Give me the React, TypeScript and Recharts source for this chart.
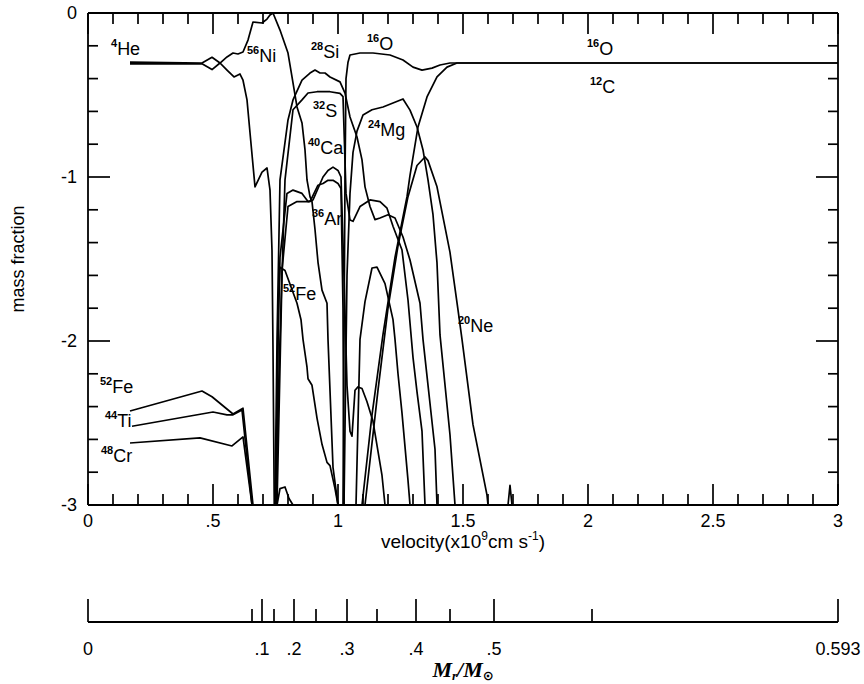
import React from 'react';
import { LineChart, Line, XAxis, YAxis, ReferenceDot } from 'recharts';

// each curve: [velocity (1e9 cm/s), log10 mass fraction]
const toPts = (a: number[][]) => a.map(([v, y]) => ({ v, y }));

const he4 = toPts([
  [0.168, -0.3], [0.456, -0.305], [0.496, -0.27], [0.528, -0.305], [0.556, -0.348],
  [0.584, -0.39], [0.608, -0.372], [0.62, -0.41], [0.636, -0.53], [0.648, -0.73],
  [0.668, -1.06], [0.696, -0.97], [0.716, -0.945], [0.728, -1.08], [0.736, -1.45],
  [0.74, -2.05], [0.745, -3],
]);

const ni56 = toPts([
  [0.168, -0.31], [0.456, -0.31], [0.496, -0.345], [0.528, -0.305], [0.556, -0.268],
  [0.58, -0.244], [0.6, -0.25], [0.62, -0.238], [0.64, -0.165], [0.66, -0.055],
  [0.696, -0.061], [0.716, -0.037], [0.728, -0.012], [0.74, 0], [0.768, -0.104],
  [0.8, -0.244], [0.816, -0.39], [0.836, -0.573], [0.856, -0.67], [0.868, -0.835],
  [0.876, -1.018], [0.888, -1.12], [0.896, -1.15], [0.908, -1.32], [0.92, -1.52],
  [0.936, -1.69], [0.956, -1.77], [0.96, -1.99], [0.98, -2.77], [1.0, -3],
]);

const fe52Core = toPts([
  [0.168, -2.427], [0.456, -2.305], [0.496, -2.34], [0.58, -2.445], [0.62, -2.41], [0.66, -3],
]);

const ti44 = toPts([
  [0.176, -2.52], [0.5, -2.433], [0.556, -2.45], [0.58, -2.45], [0.616, -2.42], [0.656, -3],
]);

const cr48 = toPts([
  [0.168, -2.622], [0.448, -2.591], [0.576, -2.64], [0.62, -2.585], [0.656, -3],
]);

const si28 = toPts([
  [0.748, -3], [0.756, -2.0], [0.768, -1.018], [0.8, -0.652], [0.82, -0.53],
  [0.856, -0.409], [0.888, -0.366], [0.908, -0.348], [0.928, -0.366], [0.948, -0.366],
  [0.968, -0.39], [1.008, -0.42], [1.028, -0.488], [1.048, -0.634], [1.076, -0.756],
  [1.096, -0.896], [1.108, -1.06], [1.128, -1.18], [1.148, -1.26], [1.168, -1.25],
  [1.2, -1.23], [1.228, -1.25], [1.26, -1.366], [1.288, -1.506], [1.328, -1.77],
  [1.34, -1.99], [1.388, -2.66], [1.396, -3],
]);

const s32 = toPts([
  [0.756, -3], [0.776, -1.6], [0.788, -1.018], [0.82, -0.59], [0.856, -0.53],
  [0.88, -0.488], [0.916, -0.48], [0.968, -0.48], [1.008, -0.49], [1.02, -0.51],
  [1.032, -1.1], [1.048, -1.262], [1.06, -1.27], [1.088, -1.18], [1.128, -1.14],
  [1.168, -1.15], [1.196, -1.19], [1.22, -1.3], [1.256, -1.445], [1.28, -1.75],
  [1.3, -2.1], [1.316, -2.31], [1.336, -2.55], [1.348, -3],
]);

const ca40 = toPts([
  [0.75, -3], [0.76, -2.0], [0.768, -1.49], [0.796, -1.1], [0.82, -1.08],
  [0.856, -1.1], [0.88, -1.15], [0.9, -1.14], [0.92, -1.07], [0.94, -1.0],
  [0.96, -0.96], [0.98, -0.94], [1.0, -0.96], [1.012, -1.0], [1.024, -1.6],
  [1.036, -2.27], [1.048, -2.55], [1.056, -2.58], [1.068, -2.3], [1.08, -2.28],
  [1.096, -2.29], [1.116, -2.37], [1.14, -2.49], [1.176, -2.82], [1.188, -3],
]);

const ar36 = toPts([
  [0.752, -3], [0.764, -2.2], [0.776, -1.57], [0.8, -1.18], [0.836, -1.15],
  [0.888, -1.15], [0.904, -1.1], [0.92, -1.05], [0.94, -1.04], [0.96, -1.02],
  [0.98, -1.02], [1.0, -1.04], [1.012, -1.07], [1.02, -1.8], [1.024, -3],
]);

const fe52Si = toPts([
  [0.752, -3], [0.762, -1.75], [0.768, -1.55], [0.788, -1.57], [0.836, -1.77],
  [0.852, -1.87], [0.86, -1.99], [0.876, -2.16], [0.88, -2.23], [0.896, -2.27],
  [0.916, -2.47], [0.936, -2.63], [0.956, -2.74], [0.968, -2.76], [0.988, -2.9], [1.0, -3],
]);

const smallBump = toPts([
  [0.756, -3], [0.768, -2.9], [0.788, -2.89], [0.804, -2.96], [0.82, -3],
]);

const o16 = toPts([
  [1.02, -3], [1.028, -1.0], [1.032, -0.4], [1.04, -0.3], [1.048, -0.256],
  [1.088, -0.244], [1.14, -0.244], [1.208, -0.256], [1.26, -0.287], [1.3, -0.33],
  [1.336, -0.348], [1.376, -0.336], [1.408, -0.317], [1.448, -0.305], [3, -0.305],
]);

const mg24 = toPts([
  [1.024, -3], [1.036, -1.6], [1.048, -1.1], [1.06, -0.85], [1.076, -0.72],
  [1.1, -0.622], [1.136, -0.59], [1.18, -0.573], [1.22, -0.549], [1.26, -0.524],
  [1.288, -0.592], [1.316, -0.695], [1.34, -0.835], [1.36, -1.018], [1.38, -1.23],
  [1.396, -1.524], [1.408, -1.963], [1.448, -2.573], [1.468, -3],
]);

const c12 = toPts([
  [1.096, -3], [1.136, -2.45], [1.18, -1.96], [1.228, -1.49], [1.276, -1.12],
  [1.288, -0.99], [1.32, -0.695], [1.356, -0.512], [1.396, -0.39], [1.436, -0.33],
  [1.476, -0.305], [3, -0.305],
]);

const ne20 = toPts([
  [1.108, -3], [1.16, -2.3], [1.2, -1.8], [1.24, -1.42], [1.28, -1.12],
  [1.316, -0.93], [1.348, -0.878], [1.36, -0.9], [1.396, -1.06], [1.448, -1.46],
  [1.48, -1.81], [1.496, -1.99], [1.54, -2.51], [1.596, -2.94], [1.6, -3],
]);

const midPeak = toPts([
  [1.072, -3], [1.088, -1.99], [1.108, -1.76], [1.136, -1.555], [1.156, -1.55],
  [1.188, -1.65], [1.22, -1.87], [1.228, -1.99], [1.24, -2.2], [1.256, -2.44],
  [1.28, -2.85], [1.288, -3],
]);

const spike = toPts([[1.68, -3], [1.688, -2.88], [1.696, -3]]);

const curves = [
  he4, ni56, fe52Core, ti44, cr48, si28, s32, ca40, ar36, fe52Si,
  smallBump, o16, mg24, c12, ne20, midPeak, spike,
];

// axis ticks
const velocityTicks = [
  0, 0.1, 0.2, 0.3, 0.4, 0.5, 0.6, 0.7, 0.8, 0.9, 1, 1.1, 1.2, 1.3, 1.4, 1.5,
  1.6, 1.7, 1.8, 1.9, 2, 2.1, 2.2, 2.3, 2.4, 2.5, 2.6, 2.7, 2.8, 2.9, 3,
];
const fractionTicks = [
  -3, -2.8, -2.6, -2.4, -2.2, -2, -1.8, -1.6, -1.4, -1.2, -1, -0.8, -0.6, -0.4, -0.2, 0,
];

// enclosed mass scale, placed at the velocity where each mass is reached
const massTickVelocity = [0, 0.656, 0.696, 0.744, 0.824, 0.912, 1.036, 1.156, 1.312, 1.448, 1.624, 2.016, 3];
const massTickLabels = ['0', '', '.1', '', '.2', '', '.3', '', '.4', '', '.5', '', '0.593'];

// species labels: mass number, element, anchor (velocity, log X)
const speciesLabels = [
  { a: '4', el: 'He', v: 0.092, y: -0.256 },
  { a: '56', el: 'Ni', v: 0.636, y: -0.299 },
  { a: '28', el: 'Si', v: 0.892, y: -0.274 },
  { a: '16', el: 'O', v: 1.116, y: -0.226 },
  { a: '16', el: 'O', v: 1.996, y: -0.256 },
  { a: '12', el: 'C', v: 2.008, y: -0.488 },
  { a: '32', el: 'S', v: 0.9, y: -0.634 },
  { a: '40', el: 'Ca', v: 0.88, y: -0.86 },
  { a: '24', el: 'Mg', v: 1.12, y: -0.75 },
  { a: '36', el: 'Ar', v: 0.896, y: -1.293 },
  { a: '52', el: 'Fe', v: 0.78, y: -1.75 },
  { a: '20', el: 'Ne', v: 1.48, y: -1.945 },
  { a: '52', el: 'Fe', v: 0.048, y: -2.317 },
  { a: '44', el: 'Ti', v: 0.068, y: -2.524 },
  { a: '48', el: 'Cr', v: 0.052, y: -2.738 },
];

const FONT = '"Liberation Sans", Arial, Helvetica, sans-serif';
const SERIF = '"Liberation Serif", "DejaVu Serif", serif';
const INK = '#000';

// frame layout (set by the chart margins and axis sizes below)
const W = 864;
const H = 684;
const MARGIN = { top: 12, right: 25, bottom: 0, left: 28 };
const Y_AXIS_W = 60;
const VEL_AXIS_H = 117;
const MASS_AXIS_H = 62;
const PLOT_LEFT = MARGIN.left + Y_AXIS_W;
const PLOT_BOTTOM = H - VEL_AXIS_H - MASS_AXIS_H;

const isMajorV = (v: number) => Math.abs(v * 2 - Math.round(v * 2)) < 1e-6;
const isMajorY = (y: number) => Math.abs(y - Math.round(y)) < 1e-6;
const fmtV = (v: number) => (v === 0 ? '0' : v < 1 ? String(v).replace(/^0/, '') : String(v));

// velocity labels under the frame
const BottomLabel = (props: any) => {
  const v = props.payload.value;
  if (!isMajorV(v)) return <g />;
  return (
    <text x={Number(props.x)} y={PLOT_BOTTOM + 22} textAnchor="middle" fontSize={18} fontFamily={FONT} fill={INK}>
      {fmtV(v)}
    </text>
  );
};

// log mass fraction labels left of the frame
const LeftLabel = (props: any) => {
  const v = props.payload.value;
  if (!isMajorY(v)) return <g />;
  return (
    <text x={PLOT_LEFT - 11} y={Number(props.y) + 6} textAnchor="end" fontSize={18} fontFamily={FONT} fill={INK}>
      {String(Math.round(v))}
    </text>
  );
};

// a short stroke starting at a scaled point, given as a pixel offset
const stub = (dx: number, dy: number, shiftY = 0) => (p: any) => (
  <path d={`M${p.cx},${p.cy + shiftY}l${dx},${dy}`} stroke={INK} strokeWidth={1.7} fill="none" />
);

const SpeciesText = ({ cx, cy, a, el }: { cx: number; cy: number; a: string; el: string }) => (
  <text x={cx} y={cy} fontSize={18} fontFamily={FONT} fill={INK}>
    <tspan fontSize={11} fontWeight="bold" dy={-8}>{a}</tspan>
    <tspan dy={8}>{el}</tspan>
  </text>
);

// axis titles sit in a plain svg layer on top of the chart
const Titles = () => (
  <svg width={W} height={H} style={{ position: 'absolute', left: 0, top: 0, pointerEvents: 'none' }}>
    <text x={24} y={259} transform="rotate(-90 24 259)" textAnchor="middle" fontSize={18} fontFamily={FONT} fill={INK}>
      mass fraction
    </text>
    <text x={463} y={548} textAnchor="middle" fontSize={19} fontFamily={FONT} fill={INK}>
      velocity(x10
      <tspan fontSize={12} dy={-8}>9</tspan>
      <tspan dy={8}>cm  s</tspan>
      <tspan fontSize={12} dy={-8}>-1</tspan>
      <tspan dy={8}>)</tspan>
    </text>
    <text x={463} y={677} textAnchor="middle" fontSize={22} fontFamily={SERIF} fontWeight="bold" fontStyle="italic" fill={INK}>
      M
      <tspan fontSize={13} dy={3}>r</tspan>
      <tspan dy={-3}>/M</tspan>
      <tspan fontSize={13} dy={3} fontFamily='"DejaVu Sans", sans-serif' fontStyle="normal">⊙</tspan>
    </text>
  </svg>
);

const frameLine = { stroke: INK, strokeWidth: 1.8 };

export default function App() {
  return (
    <div style={{ position: 'absolute', left: 0, top: 0, width: W, height: H, background: '#fff' }}>
      <LineChart width={W} height={H} margin={MARGIN}>
        <XAxis
          xAxisId={0}
          dataKey="v"
          type="number"
          domain={[0, 3]}
          ticks={velocityTicks}
          interval={0}
          height={VEL_AXIS_H}
          tickSize={0}
          tickMargin={0}
          tickLine={false}
          axisLine={frameLine}
          tick={BottomLabel}
        />
        <XAxis
          xAxisId="mass"
          type="number"
          orientation="bottom"
          domain={[0, 3]}
          allowDataOverflow
          height={MASS_AXIS_H}
          tick={false}
          tickLine={false}
          axisLine={frameLine}
        />
        <XAxis
          xAxisId="top"
          type="number"
          orientation="top"
          domain={[0, 3]}
          allowDataOverflow
          height={1}
          tick={false}
          tickLine={false}
          axisLine={frameLine}
        />
        <YAxis
          yAxisId={0}
          type="number"
          domain={[-3, 0]}
          ticks={fractionTicks}
          interval={0}
          width={Y_AXIS_W}
          tickSize={0}
          tickMargin={0}
          tickLine={false}
          axisLine={frameLine}
          tick={LeftLabel}
        />
        <YAxis
          yAxisId="right"
          type="number"
          orientation="right"
          domain={[-3, 0]}
          allowDataOverflow
          width={1}
          tick={false}
          tickLine={false}
          axisLine={frameLine}
        />
        {curves.map((pts, i) => (
          <Line
            key={i}
            data={pts}
            dataKey="y"
            type="linear"
            dot={false}
            stroke={INK}
            strokeWidth={1.7}
            strokeLinejoin="round"
            isAnimationActive={false}
          />
        ))}

        {/* inward ticks on the bottom and top edges */}
        {velocityTicks.map((v) => {
          const len = isMajorV(v) ? 21 : 11;
          return [
            <ReferenceDot key={`vb-${v}`} x={v} y={-3} r={1} ifOverflow="visible" shape={stub(0, -len)} />,
            <ReferenceDot key={`vt-${v}`} x={v} y={0} r={1} ifOverflow="visible" shape={stub(0, len)} />,
          ];
        })}

        {/* inward ticks on the left and right edges */}
        {fractionTicks.map((t) => {
          const len = isMajorY(t) ? 22 : 10;
          return [
            <ReferenceDot key={`yl-${t}`} x={0} y={t} r={1} ifOverflow="visible" shape={stub(len, 0)} />,
            <ReferenceDot key={`yr-${t}`} x={3} y={t} r={1} ifOverflow="visible" shape={stub(-len, 0)} />,
          ];
        })}

        {/* enclosed-mass scale along the lower axis line */}
        {massTickVelocity.map((v, i) => {
          const label = massTickLabels[i];
          return [
            <ReferenceDot
              key={`mt-${i}`}
              x={v}
              y={-3}
              r={1}
              ifOverflow="visible"
              shape={stub(0, label ? -23 : -13, VEL_AXIS_H)}
            />,
            label ? (
              <ReferenceDot
                key={`ml-${i}`}
                x={v}
                y={-3}
                r={1}
                ifOverflow="visible"
                shape={(p: any) => (
                  <text x={p.cx} y={p.cy + VEL_AXIS_H + 33} textAnchor="middle" fontSize={18} fontFamily={FONT} fill={INK}>
                    {label}
                  </text>
                )}
              />
            ) : null,
          ];
        })}

        {speciesLabels.map((s, i) => (
          <ReferenceDot
            key={`lbl-${i}`}
            x={s.v}
            y={s.y}
            r={1}
            fill="none"
            stroke="none"
            shape={(p: any) => <SpeciesText cx={p.cx} cy={p.cy} a={s.a} el={s.el} />}
          />
        ))}
      </LineChart>
      <Titles />
    </div>
  );
}
